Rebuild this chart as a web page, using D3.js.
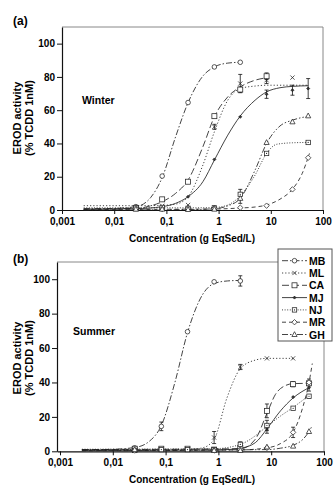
<!DOCTYPE html>
<html><head><meta charset="utf-8">
<script src="https://cdn.jsdelivr.net/npm/d3@7"></script>
<style>
body{margin:0;background:#fff}
svg{display:block}
text{font-family:"Liberation Sans",Arial,sans-serif;font-weight:bold;fill:#000}
</style>
</head><body>
<svg id="chart" width="335" height="488"></svg>
<script>
// ---------- DATA ----------
const seriesNames = ["MB", "ML", "CA", "MJ", "NJ", "MR", "GH"];
const xTickValues = [0.001, 0.01, 0.1, 1, 10, 100];
const xTickLabels = ["0,001", "0,01", "0,1", "1", "10", "100"];
const yTickValues = [0, 20, 40, 60, 80, 100];
const panelLabels = ["(a)", "(b)"];
const seasonLabels = ["Winter", "Summer"];
const xTitle = "Concentration (g EqSed/L)";
const yTitle1 = "EROD activity";
const yTitle2 = "(% TCDD 1nM)";

// measured points: [concentration, value, error]
const winterMB = [[0.026,2,0],[0.083,20.4,0],[0.26,64.6,0],[0.83,86,0],[2.6,88.8,0]];
const winterML = [[0.026,1.5,0],[0.083,2.5,0],[0.26,3,0],[0.83,50,1.5],[2.6,76,5.5],[8.3,78,2],[26,79.6,0]];
const winterCA = [[0.026,1,0],[0.083,6.4,0],[0.26,17,0],[0.83,56.4,1],[2.6,72.4,1.5],[8.3,80.4,2]];
const winterMJ = [[0.026,0.5,0],[0.083,1,0],[0.26,8,0],[0.83,30.4,0],[2.6,56,0],[8.3,69.6,2.5],[26,72,3],[52,73,6]];
const winterNJ = [[0.026,1.5,0],[0.083,1.5,0],[0.26,1,0],[0.83,1.3,0],[2.6,9.4,3],[8.3,34,0],[52,40.6,0]];
const winterMR = [[0.026,1,0],[0.083,0.5,0],[0.26,1,0],[0.83,1,0],[2.6,1.4,0],[8.3,2.6,0],[26,12.4,0],[52,31.4,0]];
const winterGH = [[0.026,0.5,0],[0.083,0.5,0],[0.26,0.3,0],[0.83,0.5,0],[2.6,7,3],[8.3,40.6,0],[26,53,0],[52,56.6,0]];

const summerMB = [[0.026,2,0],[0.083,14.5,2.5],[0.26,69.5,0],[0.83,98.5,0],[2.6,99,3]];
const summerML = [[0.026,1,0],[0.083,1,0],[0.26,1,0],[0.83,8,3.5],[2.6,49,1.5],[8.3,54,0],[26,54,0]];
const summerCA = [[0.026,1.5,0],[0.083,1.5,0],[0.26,1.5,0],[0.83,1,0],[2.6,2,0],[8.3,23.5,4],[26,39,1.5],[52,39.5,0]];
const summerMJ = [[0.026,1,0],[0.083,0.5,0],[0.26,0.5,0],[0.83,0.5,0],[2.6,1,0],[8.3,13,2.5],[26,31.5,0],[52,37,2]];
const summerNJ = [[0.026,0.5,0],[0.083,1,0],[0.26,1,0],[0.83,1,0],[2.6,4,1.5],[8.3,15,3],[26,25,0],[52,32,1]];
const summerMR = [[0.026,0.5,0],[0.83,0.5,0],[2.6,1,0],[8.3,2,0],[26,11,3],[52,40,2]];
const summerGH = [[0.026,1,0],[0.83,0.5,0],[2.6,0.5,0],[8.3,2.5,0],[26,3,0],[52,11.5,0]];

// fitted curves: [concentration, value]
const winterMBCurve = [[0.0026,0.8],[0.0083,0.9],[0.026,2],[0.05,7.5],[0.083,19.5],[0.15,44],[0.26,64.5],[0.5,80.5],[0.83,86],[1.5,88.3],[2.6,88.8]];
const winterMLCurve = [[0.0026,2.6],[0.026,2.6],[0.083,2.8],[0.15,3.5],[0.26,8],[0.5,27],[0.83,47],[1.5,66],[2.6,73],[5,74.5],[8.3,75],[26,75],[52,75]];
const winterCACurve = [[0.0026,0.5],[0.026,1],[0.05,2.5],[0.083,5],[0.15,10],[0.26,18],[0.5,38],[0.83,56],[1.5,68],[2.6,74],[5,78],[8.3,79.5]];
const winterMJCurve = [[0.0026,0.5],[0.026,0.8],[0.083,2],[0.15,4],[0.26,8],[0.5,17],[0.83,30],[1.5,45],[2.6,56.5],[5,66],[8.3,71],[15,73.5],[26,74.3],[52,74.7]];
const winterNJCurve = [[0.0026,1.3],[0.26,1.3],[0.83,1.5],[1.5,3],[2.6,8.5],[5,21],[8.3,34],[13,39.5],[26,40.4],[52,40.6]];
const winterMRCurve = [[0.0026,0.3],[0.83,0.6],[2.6,1.2],[5,1.8],[8.3,3],[15,6.5],[26,12.5],[40,22],[55,34]];
const winterGHCurve = [[0.0026,0],[0.26,0.2],[0.83,0.8],[1.5,2.5],[2.6,7],[5,24],[8.3,40],[15,50.5],[26,54],[52,56.3]];

const summerMBCurve = [[0.0026,1],[0.0083,1.1],[0.026,2.2],[0.05,6],[0.083,15],[0.15,40],[0.26,69],[0.5,91],[0.83,97.5],[1.5,99],[2.6,99.3]];
const summerMLCurve = [[0.0026,1],[0.26,1],[0.5,2],[0.83,7],[1.45,31],[2.6,48],[5,53],[8.3,54],[26,54]];
const summerCACurve = [[0.0026,1],[2.6,1.5],[5,7],[8.3,22],[12,33],[18,38],[26,39.3],[52,39.5]];
const summerMJCurve = [[0.0026,0.5],[1,0.8],[2.6,1.8],[5,5],[8.3,13],[15,23.5],[26,31],[52,37]];
const summerNJCurve = [[0.0026,1.2],[0.83,1.5],[2.6,4],[5,9],[8.3,14.5],[15,20.5],[26,25.5],[52,32.5]];
const summerMRCurve = [[0.0026,0.3],[2.6,0.8],[8.3,2],[15,4.5],[26,11],[40,26],[52,40],[60,51]];
const summerGHCurve = [[0.0026,0.5],[8.3,1],[15,1.8],[26,3.5],[40,7],[52,11.5],[60,15]];

// ---------- STYLES ----------
const styles = {
  MB: {dash: "6,2,1.5,2", marker: "circle"},
  ML: {dash: "1.2,2", marker: "x"},
  CA: {dash: "7,3", marker: "square"},
  MJ: {dash: null, marker: "dot"},
  NJ: {dash: "1,1.6", marker: "smallsquare"},
  MR: {dash: "4,3", marker: "diamond"},
  GH: {dash: "6,2,1.5,2,1.5,2", marker: "triangle"}
};

const panels = [
  {label: panelLabels[0], season: seasonLabels[0],
   left: 62, right: 323, top: 27, bottom: 210, xMin: 0.001,
   points: {MB: winterMB, ML: winterML, CA: winterCA, MJ: winterMJ, NJ: winterNJ, MR: winterMR, GH: winterGH},
   curves: {MB: winterMBCurve, ML: winterMLCurve, CA: winterCACurve, MJ: winterMJCurve, NJ: winterNJCurve, MR: winterMRCurve, GH: winterGHCurve},
   labelY: 25, seasonX: 82, seasonY: 104, ticksY: 225, titleY: 242, yTitleY: 118, legend: false},
  {label: panelLabels[1], season: seasonLabels[1],
   left: 57, right: 324, top: 262, bottom: 451.3, xMin: Math.pow(10, -3 - 3/52.65),
   points: {MB: summerMB, ML: summerML, CA: summerCA, MJ: summerMJ, NJ: summerNJ, MR: summerMR, GH: summerGH},
   curves: {MB: summerMBCurve, ML: summerMLCurve, CA: summerCACurve, MJ: summerMJCurve, NJ: summerNJCurve, MR: summerMRCurve, GH: summerGHCurve},
   labelY: 263, seasonX: 73, seasonY: 335, ticksY: 465, titleY: 483, yTitleY: 358, legend: true}
];

const svg = d3.select("#chart");

function drawMarker(g, type, cx, cy) {
  const s = g.append("g").attr("transform", `translate(${cx},${cy})`)
    .attr("stroke", "#222").attr("stroke-width", 0.75).attr("fill", "#fff");
  if (type === "circle") s.append("circle").attr("r", 2.3);
  else if (type === "x") {
    s.append("path").attr("d", "M-2.1,-2.1L2.1,2.1M-2.1,2.1L2.1,-2.1").attr("fill", "none");
  } else if (type === "square") s.append("rect").attr("x", -2.5).attr("y", -2.5).attr("width", 5).attr("height", 5);
  else if (type === "smallsquare") {
    s.append("rect").attr("x", -2.2).attr("y", -2.2).attr("width", 4.4).attr("height", 4.4);
    s.append("circle").attr("r", 0.6).attr("fill", "#222").attr("stroke", "none");
  }
  else if (type === "dot") s.append("path").attr("d", "M0,-1.5L1.5,0L0,1.5L-1.5,0Z").attr("fill", "#333");
  else if (type === "diamond") s.append("path").attr("d", "M0,-2.7L2.7,0L0,2.7L-2.7,0Z");
  else if (type === "triangle") s.append("path").attr("d", "M0,-2.8L2.6,2L-2.6,2Z");
}

panels.forEach(p => {
  const x = d3.scaleLog().domain([p.xMin, 100]).range([p.left, p.right]);
  const y = d3.scaleLinear().domain([0, 110]).range([p.bottom, p.top]);
  const g = svg.append("g");

  // gray frame (top and right)
  const frameTopEnd = p.legend ? 278 : p.right;
  g.append("line").attr("x1", p.left).attr("x2", frameTopEnd).attr("y1", p.top).attr("y2", p.top)
    .attr("stroke", "#888").attr("stroke-width", 1);
  g.append("line").attr("x1", p.right).attr("x2", p.right).attr("y1", p.legend ? 341 : p.top).attr("y2", p.bottom)
    .attr("stroke", "#888").attr("stroke-width", 1);

  // axes
  const xAxis = d3.axisBottom(x).tickValues(xTickValues)
    .tickFormat((d, i) => xTickLabels[i]).tickSizeInner(4).tickSizeOuter(0).tickPadding(3.5);
  const gx = g.append("g").attr("transform", `translate(0,${p.bottom})`).call(xAxis);
  gx.selectAll("text").attr("font-size", 10).attr("font-family", null).attr("font-weight", "bold");
  gx.select(".domain").attr("stroke", "#111").attr("stroke-width", 1.2);
  gx.selectAll(".tick line").attr("stroke", "#111");

  const yAxis = d3.axisLeft(y).tickValues(yTickValues).tickSizeInner(5).tickSizeOuter(0).tickPadding(2);
  const gy = g.append("g").attr("transform", `translate(${p.left},0)`).call(yAxis);
  gy.selectAll("text").attr("font-size", 10).attr("font-family", null).attr("font-weight", "bold");
  gy.select(".domain").attr("stroke", "#111").attr("stroke-width", 1.2);
  gy.selectAll(".tick line").attr("stroke", "#111");

  // curves
  const line = d3.line().x(d => x(d[0])).y(d => y(d[1])).curve(d3.curveMonotoneX);
  seriesNames.forEach(name => {
    g.append("path").datum(p.curves[name]).attr("d", line)
      .attr("fill", "none").attr("stroke", "#222").attr("stroke-width", 0.85)
      .attr("stroke-dasharray", styles[name].dash);
  });

  // error bars and markers
  seriesNames.forEach(name => {
    p.points[name].forEach(d => {
      if (d[2] > 0) {
        const cx = x(d[0]), y1 = y(d[1] - d[2]), y2 = y(d[1] + d[2]);
        g.append("path").attr("d", `M${cx},${y1}V${y2}M${cx-2},${y1}H${cx+2}M${cx-2},${y2}H${cx+2}`)
          .attr("stroke", "#111").attr("stroke-width", 0.8).attr("fill", "none");
      }
    });
  });
  seriesNames.forEach(name => {
    p.points[name].forEach(d => drawMarker(g, styles[name].marker, x(d[0]), y(d[1])));
  });

  // texts
  g.append("text").attr("x", 13).attr("y", p.labelY).attr("font-size", 12).text(p.label);
  g.append("text").attr("x", p.seasonX).attr("y", p.seasonY).attr("font-size", 10.5).text(p.season);
  g.append("text").attr("x", 192).attr("y", p.titleY).attr("font-size", 10).attr("text-anchor", "middle").text(xTitle);
  g.append("text").attr("transform", `translate(21,${p.yTitleY}) rotate(-90)`)
    .attr("font-size", 11).attr("text-anchor", "middle").text(yTitle1);
  g.append("text").attr("transform", `translate(33,${p.yTitleY}) rotate(-90)`)
    .attr("font-size", 11).attr("text-anchor", "middle").text(yTitle2);

  // legend
  if (p.legend) {
    const lg = svg.append("g");
    lg.append("rect").attr("x", 278).attr("y", 249).attr("width", 54).attr("height", 92)
      .attr("fill", "#fff").attr("stroke", "#555").attr("stroke-width", 1);
    seriesNames.forEach((name, i) => {
      const ly = 260.7 + i * 12.3;
      lg.append("line").attr("x1", 282).attr("x2", 307).attr("y1", ly).attr("y2", ly)
        .attr("stroke", "#222").attr("stroke-width", 0.85).attr("stroke-dasharray", styles[name].dash);
      drawMarker(lg, styles[name].marker, 294.5, ly);
      lg.append("text").attr("x", 309).attr("y", ly + 4).attr("font-size", 10.5).text(name);
    });
  }
});
</script>
</body></html>
